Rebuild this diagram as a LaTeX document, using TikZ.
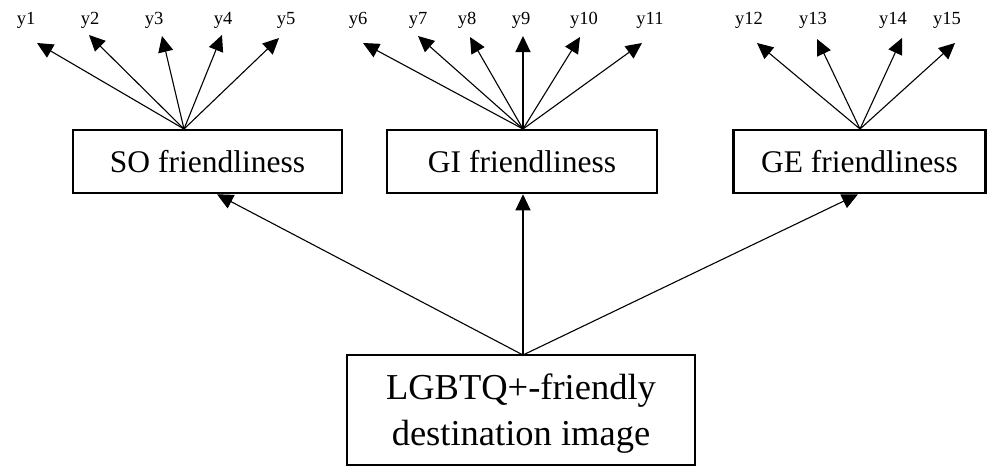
\documentclass[tikz,border=0pt]{standalone}
\usepackage{fontspec}
\setmainfont{Liberation Serif}
\usetikzlibrary{arrows.meta}
\begin{document}
\begin{tikzpicture}[x=1pt,y=-1pt,
  factor/.style={draw,line width=2.5pt,minimum height=63pt,inner sep=0pt,font=\fontsize{31.5}{36}\selectfont},
  ylab/.style={font=\fontsize{18.5}{20}\selectfont,inner sep=0pt},
  arr/.style={line width=1.1pt,-{Triangle[length=16pt,width=15pt]}}]
\useasboundingbox (0,0) rectangle (987,466);
% factor boxes
\node[factor,minimum width=269pt] (SO) at (207.5,161.5) {SO friendliness};
\node[factor,minimum width=270pt] (GI) at (522,161.5) {GI friendliness};
\node[factor,minimum width=252pt] (GE) at (859.5,161.5) {GE friendliness};
\node[draw,line width=2.5pt,minimum width=348pt,minimum height=110pt,inner sep=0pt] (LG) at (521,410) {};
\node[align=center,inner sep=0pt,font=\fontsize{36.5}{46}\selectfont] (LGt) at (521,414) {LGBTQ+-friendly\\destination image};
% indicator labels
\node[ylab] (y1) at (26,20) {y1};
\node[ylab] (y2) at (90,20) {y2};
\node[ylab] (y3) at (154,20) {y3};
\node[ylab] (y4) at (223,20) {y4};
\node[ylab] (y5) at (286,20) {y5};
\node[ylab] (y6) at (358,20) {y6};
\node[ylab] (y7) at (418,20) {y7};
\node[ylab] (y8) at (467,20) {y8};
\node[ylab] (y9) at (521,20) {y9};
\node[ylab] (y10) at (584,20) {y10};
\node[ylab] (y11) at (650,20) {y11};
\node[ylab] (y12) at (749,20) {y12};
\node[ylab] (y13) at (813,20) {y13};
\node[ylab] (y14) at (893,20) {y14};
\node[ylab] (y15) at (947,20) {y15};
% arrow tips near labels
\coordinate (t1) at (37,43);
\coordinate (t2) at (89,35);
\coordinate (t3) at (162,36);
\coordinate (t4) at (222,35);
\coordinate (t5) at (279,38);
\coordinate (t6) at (363,43);
\coordinate (t7) at (418,36);
\coordinate (t8) at (470,37);
\coordinate (t9) at (523,36);
\coordinate (t10) at (580,37);
\coordinate (t11) at (642,43);
\coordinate (t12) at (757,43);
\coordinate (t13) at (817,39);
\coordinate (t14) at (902,38);
\coordinate (t15) at (955,43);
% convergence points
\coordinate (cSO) at (184,129);
\coordinate (cGI) at (523,129);
\coordinate (cGE) at (860,129);
\foreach \i in {1,...,5} {\draw[arr] (cSO) -- (t\i);}
\foreach \i in {6,...,11} {\draw[arr] (cGI) -- (t\i);}
\foreach \i in {12,...,15} {\draw[arr] (cGE) -- (t\i);}
% structural arrows
\coordinate (cLG) at (523,355);
\draw[arr] (cLG) -- (SO.south -| 217,0);
\draw[arr] (cLG) -- (GI.south -| 523,0);
\draw[arr] (cLG) -- (GE.south -| 858,0);
\end{tikzpicture}
\end{document}
